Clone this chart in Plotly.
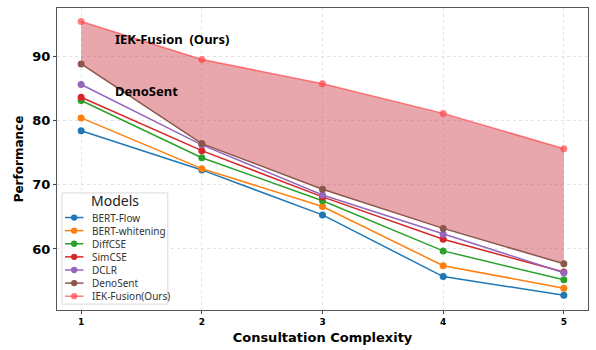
import plotly.graph_objects as go

complexity = [1, 2, 3, 4, 5]
models = ["BERT-Flow", "BERT-whitening", "DiffCSE", "SimCSE", "DCLR", "DenoSent", "IEK-Fusion(Ours)"]
bert_flow = [78.4, 72.3, 65.3, 55.7, 52.8]
bert_whitening = [80.4, 72.5, 66.6, 57.4, 53.9]
diffcse = [83.1, 74.2, 67.5, 59.7, 55.2]
simcse = [83.6, 75.3, 68.1, 61.5, 56.4]
dclr = [85.6, 76.2, 68.4, 62.3, 56.3]
denosent = [88.8, 76.4, 69.3, 63.2, 57.7]
iek_fusion = [95.4, 89.5, 85.7, 81.1, 75.6]

series = [bert_flow, bert_whitening, diffcse, simcse, dclr, denosent, iek_fusion]
colors = ["#1f77b4", "#ff7f0e", "#2ca02c", "#d62728", "#9467bd", "#8c564b", "rgba(255,70,75,0.7)"]

FONT = "DejaVu Sans"
LFONT = "Noto Sans"

fig = go.Figure()
# shaded gap between DenoSent and IEK-Fusion
fig.add_trace(go.Scatter(x=complexity, y=denosent, mode="lines", line=dict(width=0),
                         showlegend=False, hoverinfo="skip"))
fig.add_trace(go.Scatter(x=complexity, y=iek_fusion, mode="lines", line=dict(width=0),
                         fill="tonexty", fillcolor="rgba(205,60,70,0.45)",
                         showlegend=False, hoverinfo="skip"))
for name, vals, col in zip(models, series, colors):
    fig.add_trace(go.Scatter(
        x=complexity, y=vals, name=name, mode="lines+markers",
        line=dict(color=col, width=1.5), marker=dict(color=col, size=7),
        showlegend=False,
    ))

fig.add_annotation(x=1.26, y=92.75, text="<b>IEK-Fusion  (Ours)</b>", showarrow=False,
                   xanchor="left", yanchor="middle", font=dict(family=LFONT, size=13, color="black"))
fig.add_annotation(x=1.26, y=84.6, text="<b>DenoSent</b>", showarrow=False,
                   xanchor="left", yanchor="middle", font=dict(family=LFONT, size=13, color="black"))

# legend box (drawn in paper coordinates of the plot area)
W, H = 532.0, 307.0
def px(v):
    return v / W
def py(v):
    return v / H
lx0, lx1 = px(5), px(111)
ly0, ly1 = py(6), py(119)
fig.add_shape(type="rect", xref="paper", yref="paper", x0=lx0, x1=lx1, y0=ly0, y1=ly1,
              line=dict(color="#d9d9d9", width=1), fillcolor="rgba(255,255,255,0.85)", layer="above")
fig.add_annotation(xref="paper", yref="paper", x=px(58), y=ly1 - py(8), text="Models",
                   showarrow=False, xanchor="center", yanchor="middle",
                   font=dict(family=LFONT, size=14, color="#222"))
step = 13.33
for i, (name, col) in enumerate(zip(models, colors)):
    yy = ly1 - py(25 + i * step)
    fig.add_shape(type="line", xref="paper", yref="paper", x0=px(8), x1=px(26.5), y0=yy, y1=yy,
                  line=dict(color=col, width=1.5), layer="above")
    fig.add_shape(type="circle", xref="paper", yref="paper",
                  x0=px(17.2 - 3.2), x1=px(17.2 + 3.2), y0=yy - py(3.2), y1=yy + py(3.2),
                  line=dict(width=0), fillcolor=col, layer="above")
    fig.add_annotation(xref="paper", yref="paper", x=px(33.5), y=yy, text=name, showarrow=False,
                       xanchor="left", yanchor="middle",
                       font=dict(family=LFONT, size=10, color="#333"))

fig.update_layout(
    width=596, height=350,
    margin=dict(l=57, r=7, t=7, b=36),
    plot_bgcolor="white", paper_bgcolor="white",
    font=dict(family=FONT, color="black"),
    showlegend=False,
    xaxis=dict(
        range=[0.8, 5.2], tickvals=complexity, ticktext=[f"<b>{c}</b>" for c in complexity],
        tickfont=dict(size=9, family=FONT), ticks="outside", ticklen=3, tickcolor="#444",
        showgrid=True, gridcolor="#e3e3e3", griddash="dot", gridwidth=1,
        showline=True, linecolor="#555", linewidth=1, mirror=True, zeroline=False,
        title=dict(text="<b>Consultation Complexity</b>", font=dict(size=13, family=FONT), standoff=7),
    ),
    yaxis=dict(
        range=[50.5, 97.5], tickvals=[60, 70, 80, 90], ticktext=["<b>60</b>", "<b>70</b>", "<b>80</b>", "<b>90</b>"],
        tickfont=dict(size=13, family=FONT), ticks="outside", ticklen=3, tickcolor="#444",
        showgrid=True, gridcolor="#e3e3e3", griddash="dot", gridwidth=1,
        showline=True, linecolor="#555", linewidth=1, mirror=True, zeroline=False,
        title=dict(text="<b>Performance</b>", font=dict(size=12, family=FONT), standoff=6),
    ),
)

fig.write_html("out.html")
